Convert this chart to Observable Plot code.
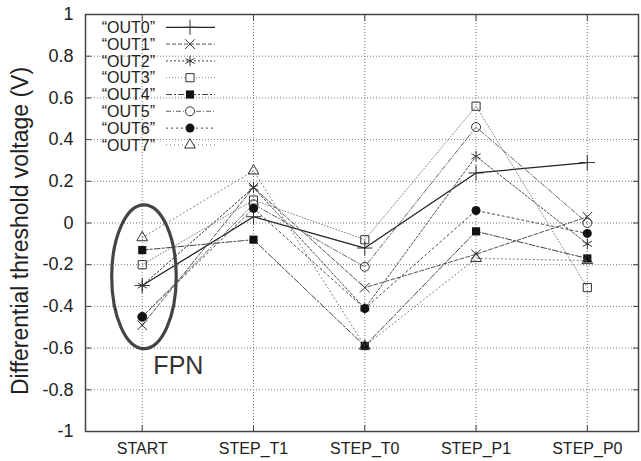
<!DOCTYPE html>
<html><head><meta charset="utf-8">
<script src="https://cdn.jsdelivr.net/npm/d3@7"></script>
<script src="https://cdn.jsdelivr.net/npm/@observablehq/plot@0.6"></script>
<style>body{margin:0;background:#fff} svg{display:block;font-family:"Liberation Sans",Arial,sans-serif}</style>
</head><body><div id="chart"></div>
<script>
const categories = ["START", "STEP_T1", "STEP_T0", "STEP_P1", "STEP_P0"];
const seriesNames = ["OUT0", "OUT1", "OUT2", "OUT3", "OUT4", "OUT5", "OUT6", "OUT7"];
const OUT0 = [-0.30, 0.03, -0.12, 0.24, 0.29];
const OUT1 = [-0.49, 0.17, -0.31, -0.15, 0.03];
const OUT2 = [-0.30, 0.17, -0.41, 0.32, -0.10];
const OUT3 = [-0.20, 0.11, -0.08, 0.56, -0.31];
const OUT4 = [-0.13, -0.08, -0.59, -0.04, -0.17];
const OUT5 = [-0.45, 0.09, -0.21, 0.46, 0.00];
const OUT6 = [-0.45, 0.07, -0.41, 0.06, -0.05];
const OUT7 = [-0.07, 0.25, -0.59, -0.17, -0.18];
const yTicks = [-1, -0.8, -0.6, -0.4, -0.2, 0, 0.2, 0.4, 0.6, 0.8, 1];
const yLabel = "Differential threshold voltage (V)";
const fpnLabel = "FPN";

const values = [OUT0, OUT1, OUT2, OUT3, OUT4, OUT5, OUT6, OUT7];
const rows = [];
seriesNames.forEach((s, k) => values[k].forEach((v, i) => rows.push({series: s, i, v})));
const idx = categories.map((c, i) => i);

const styles = [
  {dash: null,      stroke: "#222", width: 1.3, symbol: "plus",     filled: false},
  {dash: "4,2",     stroke: "#555", width: 1,   symbol: "times",    filled: false},
  {dash: "2,2",     stroke: "#444", width: 1,   symbol: "asterisk", filled: false},
  {dash: "1,2",     stroke: "#888", width: 1,   symbol: "square",   filled: false},
  {dash: "6,2,2,2", stroke: "#444", width: 1,   symbol: "square",   filled: true},
  {dash: "5,2,1,2", stroke: "#666", width: 1,   symbol: "circle",   filled: false},
  {dash: "2,3",     stroke: "#444", width: 1,   symbol: "circle",   filled: true},
  {dash: "1,3",     stroke: "#777", width: 1,   symbol: "triangle", filled: false}
];
const symR = {plus: 5, times: 4.5, asterisk: 5, square: 4.6, circle: 4.5, triangle: 4.0};

const seriesMarks = [];
seriesNames.forEach((s, k) => {
  const st = styles[k];
  const d = rows.filter(r => r.series === s);
  seriesMarks.push(Plot.line(d, {x: "i", y: "v", stroke: st.stroke, strokeWidth: st.width, strokeDasharray: st.dash}));
  seriesMarks.push(Plot.dot(d, {x: "i", y: "v", symbol: st.symbol, r: symR[st.symbol],
    fill: st.filled ? "#111" : "none", stroke: st.filled ? "none" : "#333", strokeWidth: 1}));
});

const fmt = d => String(+d.toFixed(1));

const plot = Plot.plot({
  width: 641, height: 461,
  marginLeft: 85, marginRight: 3, marginTop: 14, marginBottom: 30,
  style: {fontFamily: '"Liberation Sans", Arial, sans-serif', background: "#fff"},
  x: {type: "linear", domain: [-0.51, 4.46]},
  y: {domain: [-1, 1]},
  marks: [
    Plot.gridY(yTicks, {stroke: "#777", strokeOpacity: 1, strokeDasharray: "1,2"}),
    Plot.gridX(idx, {stroke: "#777", strokeOpacity: 1, strokeDasharray: "1,2"}),
    ...seriesMarks,
    Plot.frame({stroke: "#444", strokeWidth: 1.5}),
    Plot.axisY(yTicks, {anchor: "left", tickSize: -6, tickPadding: 18, tickFormat: fmt, fontSize: 18, fill: "#222", stroke: "#444", label: null}),
    Plot.axisY(yTicks, {anchor: "right", tickSize: -6, tickFormat: () => "", stroke: "#444", label: null}),
    Plot.axisX(idx, {anchor: "bottom", tickSize: -6, tickPadding: 17, tickFormat: i => categories[i], fontSize: 16, fill: "#222", stroke: "#444", label: null}),
    Plot.axisX(idx, {anchor: "top", tickSize: -6, tickFormat: () => "", stroke: "#444", label: null}),
    Plot.text([fpnLabel], {x: () => 0.1, y: () => -0.725, text: d => d, textAnchor: "start", lineAnchor: "bottom", fontSize: 25, fill: "#333"})
  ]
});

document.getElementById("chart").appendChild(plot);

const sx = plot.scale("x"), sy = plot.scale("y");
const svg = d3.select(plot);

// FPN ellipse annotation around START
const ellipse = {cat: 0, y: -0.26, rx: 0.29, ry: 0.345};
svg.append("ellipse")
  .attr("cx", sx.apply(ellipse.cat + 0.02)).attr("cy", sy.apply(ellipse.y))
  .attr("rx", sx.apply(ellipse.rx) - sx.apply(0)).attr("ry", sy.apply(0) - sy.apply(ellipse.ry))
  .attr("fill", "none").attr("stroke", "#444").attr("stroke-width", 3.2);

// y label
svg.append("text")
  .attr("transform", "translate(28,231) rotate(-90)")
  .attr("text-anchor", "middle").attr("font-size", 23).attr("fill", "#222")
  .text(yLabel);

// legend
const lg = svg.append("g");
seriesNames.forEach((s, k) => {
  const st = styles[k];
  const yy = 27.3 + 16.8 * k;
  lg.append("text").attr("x", 155).attr("y", yy).attr("dy", "0.36em")
    .attr("text-anchor", "end").attr("font-size", 16).attr("fill", "#222")
    .text("\u201C" + s + "\u201D");
  lg.append("line").attr("x1", 166).attr("x2", 215).attr("y1", yy).attr("y2", yy)
    .attr("stroke", st.stroke).attr("stroke-width", st.width)
    .attr("stroke-dasharray", st.dash);
  const sym = {plus: d3.symbolPlus, times: d3.symbolTimes, asterisk: d3.symbolAsterisk,
    square: d3.symbolSquare, circle: d3.symbolCircle, triangle: d3.symbolTriangle}[st.symbol];
  const r = symR[st.symbol];
  lg.append("path").attr("transform", `translate(190,${yy})`)
    .attr("d", d3.symbol(sym, r * r * Math.PI)())
    .attr("fill", st.filled ? "#111" : "#fff").attr("stroke", st.filled ? "none" : "#333");
});
</script>
</body></html>
